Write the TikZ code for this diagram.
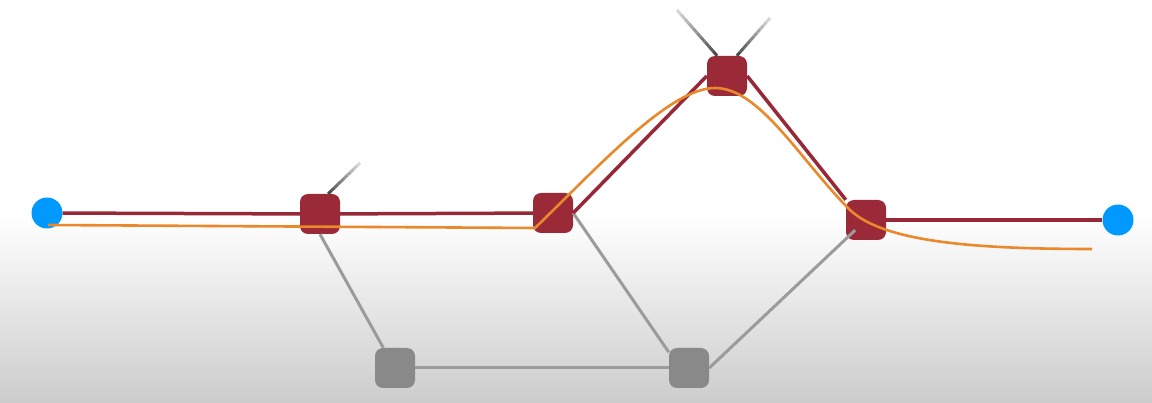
\documentclass[tikz,border=0pt]{standalone}
\usetikzlibrary{calc}

\definecolor{routerred}{RGB}{155,42,56}
\definecolor{linkred}{RGB}{150,40,56}
\definecolor{sparegray}{RGB}{137,137,137}
\definecolor{linkgray}{RGB}{155,155,155}
\definecolor{hostblue}{RGB}{0,153,255}
\definecolor{floworange}{RGB}{233,137,43}

\tikzset{
  router/.style={rectangle, rounded corners=8pt, minimum size=40pt, inner sep=0pt, fill=routerred},
  spare/.style={router, fill=sparegray},
  host/.style={circle, minimum size=31pt, inner sep=0pt, fill=hostblue},
  link/.style={line width=3.5pt, linkred},
  idle/.style={line width=3pt, linkgray},
  flow/.style={line width=2.6pt, floworange},
  stub/.style={line width=3pt}
}

\begin{document}
\begin{tikzpicture}[x=1pt,y=-1pt]

\useasboundingbox (0,0) rectangle (1152,403);
\fill[white] (0,0) rectangle (1152,215);
\shade[top color=white, bottom color=gray!40] (0,215) rectangle (1152,403);

\draw (47,213) node(SRC)[host]{};
\draw (1118,220) node(DST)[host]{};
\draw (320,214) node(RA)[router]{};
\draw (553,213) node(RB)[router]{};
\draw (727,76) node(RC)[router]{};
\draw (866,220) node(RD)[router]{};
\draw (395,368) node(GA)[spare]{};
\draw (689,368) node(GB)[spare]{};

\coordinate (STUBA) at (360,163);
\coordinate (STUBB) at (677,10);
\coordinate (STUBC) at (770,18);
\coordinate (FLOWIN) at (48,225);
\coordinate (FLOWOUT) at (1092,249);

% links that fade out
\foreach \a/\b in {RA.68/STUBA, RC.116/STUBB, RC.64/STUBC}{
  \foreach \i in {0,...,9}{
    \pgfmathtruncatemacro{\tone}{70-6*\i}
    \draw[stub, color=black!\tone] ($(\a)!0.1*\i!(\b)$) -- ($(\a)!0.1*\i+0.1!(\b)$);
  }
}

\draw[idle] (RA.south) -- (GA.120);
\draw[idle] (GA) -- (GB);
\draw[idle] (RB.east) -- (GB.142);

\draw[link] (SRC) -- (RA);
\draw[link] (RA) -- (RB);
\draw[link] (RB.east) -- (RC.west);
\draw[link] (RC.east) -- (RD.north west);
\draw[link] (RD) -- (DST);

\draw[flow] (FLOWIN) -- (535,228) .. controls (600,165) and (670,88) .. (715,88)
  .. controls (760,88) and (800,160) .. (850,210)
  .. controls (885,243) and (980,249) .. (FLOWOUT);

\draw[idle, shorten >=-13pt] (GB.east) -- (RD);

\end{tikzpicture}
\end{document}
